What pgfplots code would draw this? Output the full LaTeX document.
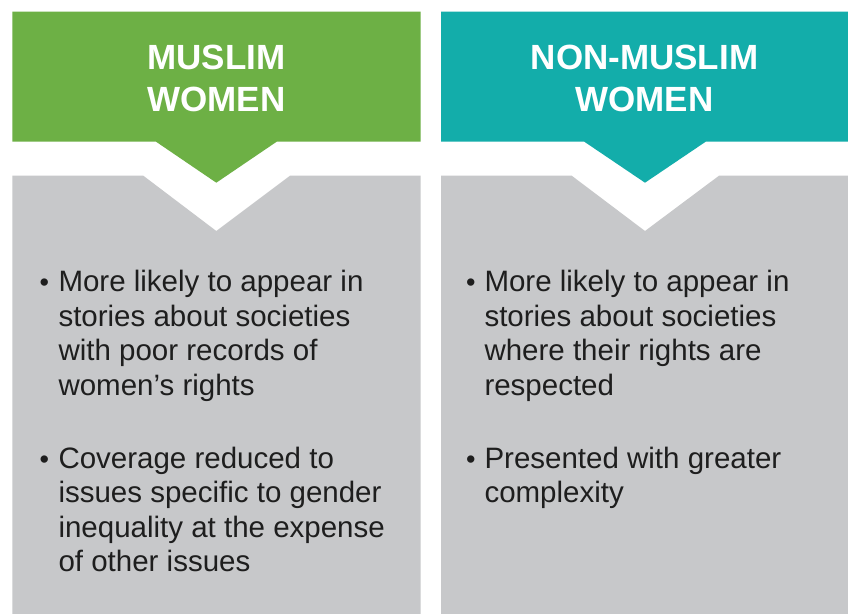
\documentclass[border=0pt]{standalone}
\usepackage{pgfplots}
\pgfplotsset{compat=1.18}
\usepackage{fontspec}
\setmainfont{Liberation Sans}
\definecolor{mgreen}{HTML}{6DB045}
\definecolor{mteal}{HTML}{13ADAA}
\definecolor{mgray}{HTML}{C7C8CA}
\definecolor{mtext}{HTML}{1E1E1E}
\tikzset{
  body/.style={anchor=base west, inner sep=0pt, text=mtext, font=\fontsize{29.5bp}{34.5bp}\selectfont},
  bul/.style={anchor=base, inner sep=0pt, text=mtext, font=\fontsize{27bp}{27bp}\selectfont},
  head/.style={anchor=base, inner sep=0pt, text=white, font=\fontsize{35bp}{41.6bp}\selectfont\bfseries},
}
\begin{document}
\begin{tikzpicture}
\begin{axis}[
  width=848bp, height=614bp, scale only axis, hide axis,
  xmin=0, xmax=848, ymin=0, ymax=614, y dir=reverse,
  clip=false,
]
% background (sets the page size)
\addplot[fill=white, draw=none] coordinates {(0,0) (848,0) (848,614) (0,614)} -- cycle;
% left header
\addplot[fill=mgreen, draw=none] coordinates {(12.3,11.7) (420.7,11.7) (420.7,141.7) (276.7,141.7) (216.3,182.7) (156,141.7) (12.3,141.7)} -- cycle;
% left body
\addplot[fill=mgray, draw=none] coordinates {(12.3,175.7) (143.3,175.7) (216.3,231) (290,175.7) (420.7,175.7) (420.7,614) (12.3,614)} -- cycle;
% right header
\addplot[fill=mteal, draw=none] coordinates {(441,11.7) (848,11.7) (848,141.7) (705.7,141.7) (645,182.7) (584.3,141.7) (441,141.7)} -- cycle;
% right body
\addplot[fill=mgray, draw=none] coordinates {(441,175.7) (571.7,175.7) (645,231) (719,175.7) (848,175.7) (848,614) (441,614)} -- cycle;

% headers
\node[head] at (axis cs:216.3,69.8) {MUSLIM};
\node[head] at (axis cs:216.3,111.4) {WOMEN};
\node[head] at (axis cs:644.5,69.8) {NON-MUSLIM};
\node[head] at (axis cs:644.5,111.4) {WOMEN};

% left bullets
\node[bul] at (axis cs:44.3,291.7) {\textbullet};
\node[body] at (axis cs:58.3,291.7) {More likely to appear in};
\node[body] at (axis cs:58.3,326.2) {stories about societies};
\node[body] at (axis cs:58.3,360.7) {with poor records of};
\node[body] at (axis cs:58.3,395.2) {women’s rights};
\node[bul] at (axis cs:44.3,468.3) {\textbullet};
\node[body] at (axis cs:58.3,468.3) {Coverage reduced to};
\node[body] at (axis cs:58.3,502.8) {issues specific to gender};
\node[body] at (axis cs:58.3,537.3) {inequality at the expense};
\node[body] at (axis cs:58.3,571.8) {of other issues};

% right bullets
\node[bul] at (axis cs:470.9,291.7) {\textbullet};
\node[body] at (axis cs:484.3,291.7) {More likely to appear in};
\node[body] at (axis cs:484.3,326.2) {stories about societies};
\node[body] at (axis cs:484.3,360.7) {where their rights are};
\node[body] at (axis cs:484.3,395.2) {respected};
\node[bul] at (axis cs:470.9,468.3) {\textbullet};
\node[body] at (axis cs:484.3,468.3) {Presented with greater};
\node[body] at (axis cs:484.3,502.8) {complexity};
\end{axis}
\end{tikzpicture}
\end{document}
